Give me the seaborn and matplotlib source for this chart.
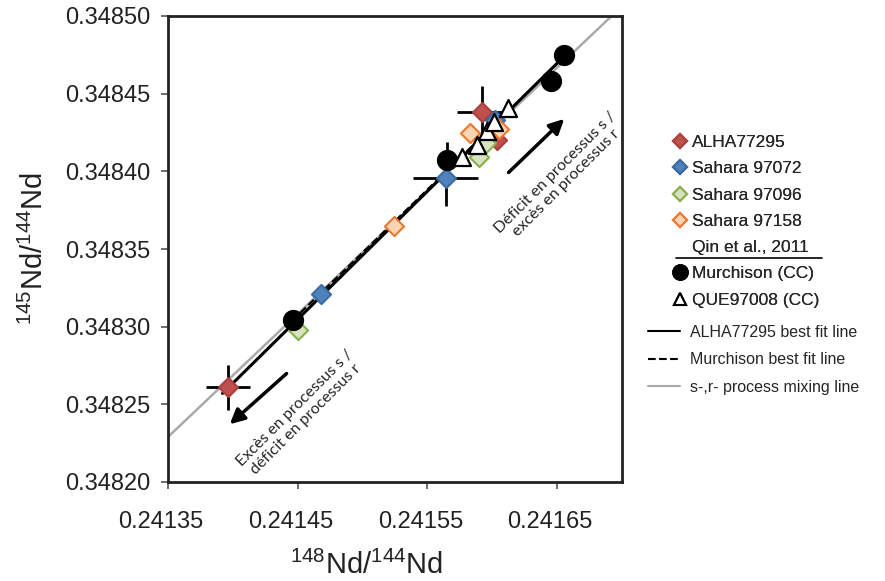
import numpy as np
import pandas as pd
import seaborn as sns
import matplotlib.pyplot as plt
import matplotlib.transforms as mtransforms
from matplotlib.lines import Line2D

# data
alha_x = [0.241396, 0.241592, 0.241604]
alha_y = [0.348261, 0.348438, 0.348420]
alha_xerr = [0.0000170, 0.0000190, 0.0]
alha_yerr = [0.0000145, 0.0000170, 0.0]

sah72_x = [0.241468, 0.241564, 0.241602]
sah72_y = [0.348321, 0.348396, 0.348433]
sah72_xerr = [0.0000045, 0.0000250, 0.0000020]
sah72_yerr = [0.0000025, 0.0000180, 0.0000020]

sah96_x = [0.241450, 0.241590, 0.241595]
sah96_y = [0.348298, 0.348409, 0.348418]
sah96_xerr = [0.0000030, 0.0000020, 0.0]
sah96_yerr = [0.0000030, 0.0000030, 0.0]

sah158_x = [0.241524, 0.241583, 0.241605]
sah158_y = [0.348365, 0.348425, 0.348427]
sah158_xerr = [0.0000040, 0.0, 0.0]
sah158_yerr = [0.0000035, 0.0, 0.0]

murch_x = [0.241446, 0.241565, 0.241645, 0.241655]
murch_y = [0.348304, 0.348407, 0.348458, 0.348475]
murch_xerr = [0.0000020, 0.0000020, 0.0000020, 0.0000020]
murch_yerr = [0.0000030, 0.0000120, 0.0000050, 0.0000050]

que_x = [0.241577, 0.241588, 0.241596, 0.241601, 0.241612]
que_y = [0.348409, 0.348417, 0.348426, 0.348432, 0.348441]

alha_fit_x = [0.241392, 0.241659]
alha_fit_y = [0.348257, 0.348477]
murch_fit_x = [0.241446, 0.241657]
murch_fit_y = [0.348304, 0.348475]
mix_x = [0.24135, 0.241692]
mix_y = [0.348229, 0.348500]

xticks = [0.24135, 0.24145, 0.24155, 0.24165]
yticks = [0.34820, 0.34825, 0.34830, 0.34835, 0.34840, 0.34845, 0.34850]

sns.set_theme(style='white')
plt.rcParams['font.family'] = ['Liberation Sans', 'DejaVu Sans']
plt.rcParams['mathtext.fontset'] = 'custom'
plt.rcParams['mathtext.rm'] = 'Liberation Sans'
plt.rcParams['mathtext.it'] = 'Liberation Sans'

groups = [
    ('ALHA77295', alha_x, alha_y, alha_xerr, alha_yerr, '#C0504D', '#A9403D', 'D', 95),
    ('Sahara 97072', sah72_x, sah72_y, sah72_xerr, sah72_yerr, '#4F81BD', '#3C6A9E', 'D', 95),
    ('Sahara 97096', sah96_x, sah96_y, sah96_xerr, sah96_yerr, '#D7E4BD', '#8AAE4E', 'D', 95),
    ('Sahara 97158', sah158_x, sah158_y, sah158_xerr, sah158_yerr, '#FBD4B4', '#E9782E', 'D', 95),
]

fig = plt.figure(figsize=(8.85, 5.81), dpi=100)
ax = fig.add_axes([168 / 885, 99 / 581, 454 / 885, 466 / 581])

# lines
ax.plot(mix_x, mix_y, color='#AAAAAA', lw=1.8, zorder=1)
ax.plot(alha_fit_x, alha_fit_y, color='black', lw=2.2, zorder=2)
ax.plot(murch_fit_x, murch_fit_y, color='black', lw=1.5, ls='--', zorder=2)

# error bars
for name, gx, gy, xe, ye, face, edge, mk, s in groups:
    ax.errorbar(gx, gy, xerr=xe, yerr=ye, fmt='none', ecolor='black', elinewidth=2, capsize=0, zorder=2.5)
ax.errorbar(murch_x, murch_y, xerr=murch_xerr, yerr=murch_yerr, fmt='none', ecolor='black',
            elinewidth=2, capsize=0, zorder=2.5)

for name, gx, gy, xe, ye, face, edge, mk, s in groups:
    df = pd.DataFrame({'x': gx, 'y': gy})
    sns.scatterplot(data=df, x='x', y='y', marker=mk, s=s, color=face, edgecolor=edge,
                    linewidth=1.5, ax=ax, zorder=3)

sns.scatterplot(data=pd.DataFrame({'x': murch_x, 'y': murch_y}), x='x', y='y', marker='o', s=200,
                color='black', edgecolor='black', ax=ax, zorder=3.5)
sns.scatterplot(data=pd.DataFrame({'x': que_x, 'y': que_y}), x='x', y='y', marker='^', s=150,
                color='white', edgecolor='black', linewidth=1.6, ax=ax, zorder=4)

# arrows and annotations
ax.annotate('', xy=(0.241657, 0.348435), xytext=(0.241611, 0.348398),
            arrowprops=dict(arrowstyle='-|>', lw=2.5, mutation_scale=22, color='black'))
ax.annotate('', xy=(0.241396, 0.348236), xytext=(0.241443, 0.348271),
            arrowprops=dict(arrowstyle='-|>', lw=2.5, mutation_scale=22, color='black'))
ax.text(0.241653, 0.348396, 'Déficit en processus s /\nexcès en processus r', rotation=45,
        ha='center', va='center', fontsize=11.5, family='Lato', linespacing=1.05,
        rotation_mode='anchor')
ax.text(0.241452, 0.348244, 'Excès en processus s /\ndéficit en processus r', rotation=45,
        ha='center', va='center', fontsize=11.5, family='Lato', linespacing=1.05,
        rotation_mode='anchor')

ax.set_xlim(0.24135, 0.24170)
ax.set_ylim(0.34820, 0.34850)
ax.set_xticks(xticks)
ax.set_yticks(yticks)
ax.set_xticklabels([f'{v:.5f}' for v in xticks])
ax.set_yticklabels([f'{v:.5f}' for v in yticks])
ax.tick_params(axis='both', direction='out', length=5, width=1.2, color='#555555',
               labelsize=17, labelcolor='#222222', bottom=True, left=True, pad=8)
ax.tick_params(axis='x', pad=16)
shift = mtransforms.ScaledTranslation(-7 / 100, 0, fig.dpi_scale_trans)
for lab in ax.get_xticklabels():
    lab.set_transform(lab.get_transform() + shift)
for sp in ax.spines.values():
    sp.set_color('#222222')
    sp.set_linewidth(2)
ax.set_xlabel(r'$^{148}$Nd/$^{144}$Nd', fontsize=21, color='#222222')
ax.set_ylabel(r'$^{145}$Nd/$^{144}$Nd', fontsize=21, color='#222222')
ax.xaxis.set_label_coords(0.436, -0.147)
ax.yaxis.set_label_coords(-0.262, 0.5)

# legend: sample markers
mk_handles = []
for name, gx, gy, xe, ye, face, edge, mk, s in groups:
    mk_handles.append(Line2D([], [], marker='D', ls='none', markersize=7.5, markerfacecolor=face,
                             markeredgecolor=edge, markeredgewidth=1.5, label=name))
mk_handles.append(Line2D([], [], ls='none', label='Qin et al., 2011'))
mk_handles.append(Line2D([], [], marker='o', ls='none', markersize=11, color='black',
                         label='Murchison (CC)'))
mk_handles.append(Line2D([], [], marker='^', ls='none', markersize=9, markerfacecolor='white',
                         markeredgecolor='black', markeredgewidth=1.5, label='QUE97008 (CC)'))
leg1 = fig.legend(handles=mk_handles, loc='upper left', bbox_to_anchor=(673 / 885, 1 - 135 / 581),
                  frameon=False, fontsize=12.5, handlelength=0.8, handletextpad=0.3,
                  labelspacing=0.64, borderpad=0, borderaxespad=0)

ln_handles = [
    Line2D([], [], color='black', lw=1.5, label='ALHA77295 best fit line'),
    Line2D([], [], color='black', lw=1.5, ls='--', label='Murchison best fit line'),
    Line2D([], [], color='#AAAAAA', lw=1.5, label='s-,r- process mixing line'),
]
leg2 = fig.legend(handles=ln_handles, loc='upper left', bbox_to_anchor=(648 / 885, 1 - 325 / 581),
                  frameon=False, fontsize=11.5, handlelength=2.0, handletextpad=0.6,
                  labelspacing=0.78, borderpad=0, borderaxespad=0)
fig.add_artist(leg1)

fig.add_artist(Line2D([676 / 885, 822 / 885], [1 - 258 / 581, 1 - 258 / 581], color='black', lw=1.2))

fig.savefig('out.png', dpi=100)
